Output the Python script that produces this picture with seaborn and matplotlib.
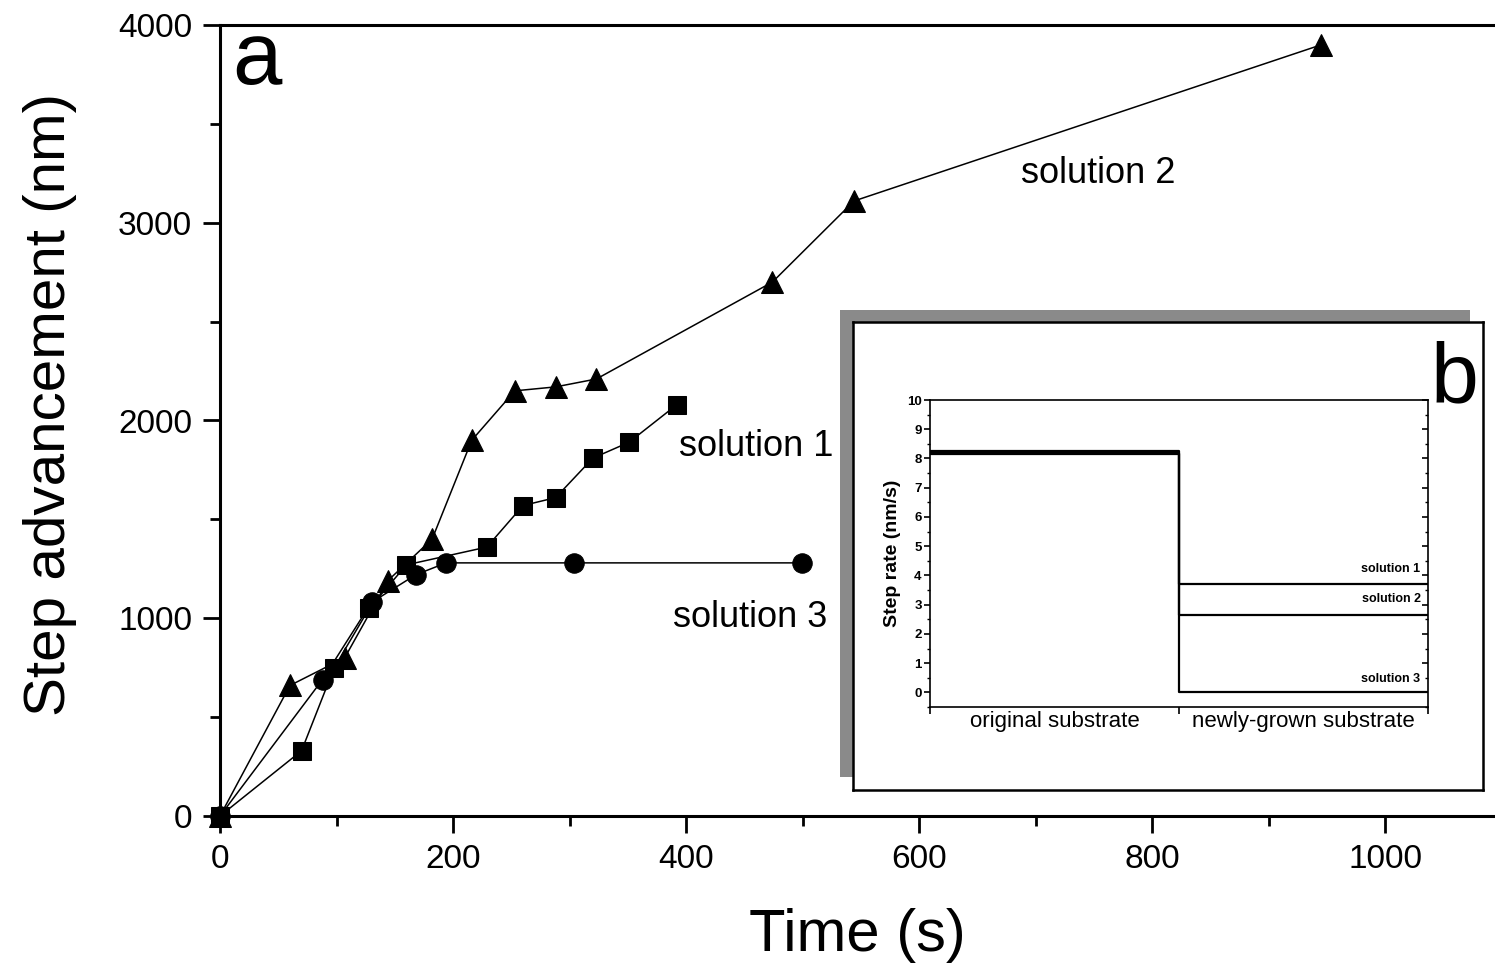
import numpy as np
import pandas as pd
import matplotlib
matplotlib.use("Agg")
import matplotlib.pyplot as plt
from matplotlib.patches import Rectangle
from matplotlib.ticker import MultipleLocator
import seaborn as sns

# solution 1 (squares)
t_sol1 = [0, 70, 98, 128, 160, 229, 260, 288, 320, 351, 392]
d_sol1 = [0, 330, 750, 1050, 1270, 1360, 1570, 1610, 1810, 1890, 2080]
# solution 2 (triangles)
t_sol2 = [0, 60, 107, 144, 182, 216, 253, 288, 323, 474, 544, 945]
d_sol2 = [0, 660, 800, 1190, 1400, 1900, 2150, 2170, 2210, 2700, 3110, 3900]
# solution 3 (circles)
t_sol3 = [0, 88, 130, 168, 194, 304, 499]
d_sol3 = [0, 690, 1080, 1220, 1280, 1280, 1280]

# inset: step rate before / after
substrates = ["original substrate", "newly-grown substrate"]
rate_orig = [8.27, 8.2, 8.15]
rate_new = [3.7, 2.65, 0.0]
sol_names = ["solution 1", "solution 2", "solution 3"]

sns.set_style("ticks")
plt.rcParams['font.family'] = ['Liberation Sans', 'DejaVu Sans']
for k in ['text.color', 'axes.labelcolor', 'xtick.color', 'ytick.color', 'axes.edgecolor']:
    plt.rcParams[k] = 'black'

W, H = 1495, 971
fig = plt.figure(figsize=(W / 100, H / 100), dpi=100)

ax = fig.add_axes([220 / W, 1 - 816 / H, (W - 220) / W, (816 - 25) / H])
for t, d, m, ms in [(t_sol1, d_sol1, 's', 13.5), (t_sol2, d_sol2, '^', 16), (t_sol3, d_sol3, 'o', 14)]:
    sns.lineplot(x=t, y=d, ax=ax, sort=False, color='black', linewidth=1.1,
                 marker=m, markersize=ms, markeredgecolor='black', clip_on=False)

ax.set_xlim(0, 1094)
ax.set_ylim(0, 4000)
ax.xaxis.set_major_locator(MultipleLocator(200))
ax.xaxis.set_minor_locator(MultipleLocator(100))
ax.yaxis.set_major_locator(MultipleLocator(1000))
ax.yaxis.set_minor_locator(MultipleLocator(500))
ax.tick_params(which='major', direction='out', length=12, width=2, labelsize=24, pad=8)
ax.tick_params(which='minor', direction='out', length=7, width=2)
for s in ['left', 'bottom', 'top']:
    ax.spines[s].set_linewidth(2.2)
ax.spines['right'].set_visible(False)
ax.set_xlabel('Time (s)', fontsize=43, labelpad=24)
ax.set_ylabel('Step advancement (nm)', fontsize=42)
ax.yaxis.set_label_coords(-0.112, 0.52)

ax.text(32, 3820, 'a', fontsize=64, ha='center', va='center')
ax.text(460, 1866, 'solution 1', fontsize=26, ha='center', va='center')
ax.text(455, 1006, 'solution 3', fontsize=26, ha='center', va='center')
ax.text(754, 3247, 'solution 2', fontsize=26, ha='center', va='center')

# inset frame with shadow
shadow = Rectangle((840 / W, 1 - 777 / H), (1470 - 840) / W, (777 - 310) / H,
                   transform=fig.transFigure, facecolor='#8a8a8a', edgecolor='none', zorder=1.5)
fig.add_artist(shadow)
box = fig.add_axes([853 / W, 1 - 790 / H, (1483 - 853) / W, (790 - 322) / H])
box.set_zorder(2)
box.set_xticks([])
box.set_yticks([])
for s in box.spines.values():
    s.set_linewidth(1.8)
    s.set_visible(True)
box.text(0.955, 0.875, 'b', fontsize=62, ha='center', va='center', transform=box.transAxes)

ins = fig.add_axes([930 / W, 1 - 707 / H, (1428 - 930) / W, (707 - 400) / H])
ins.set_zorder(3)
for i in range(3):
    sns.lineplot(x=[0, 1, 2], y=[rate_orig[i], rate_new[i], rate_new[i]], ax=ins,
                 drawstyle='steps-post', color='black', linewidth=1.6)
ins.set_xlim(0, 2)
ins.set_ylim(-0.5, 10)
ins.yaxis.set_major_locator(MultipleLocator(1))
ins.yaxis.set_minor_locator(MultipleLocator(0.5))
ins.set_xticks([0, 1, 2])
ins.set_xticklabels([])
ins.set_xticks([0.5, 1.5], minor=True)
ins.set_xticklabels(substrates, minor=True, fontsize=16)
ins.tick_params(axis='x', which='minor', length=0, pad=3)
ins.tick_params(axis='x', which='major', direction='out', length=5, width=1.2)
ins.tick_params(axis='y', which='major', direction='out', length=4, width=1.2, labelsize=9.5,
                right=True, pad=2)
ins.tick_params(axis='y', which='minor', direction='out', length=2.5, width=1, right=True)
for lab in ins.get_yticklabels():
    lab.set_fontweight('bold')
for tk in ins.yaxis.get_major_ticks() + ins.yaxis.get_minor_ticks():
    tk.tick2line.set_marker(matplotlib.lines.TICKLEFT)
for s in ins.spines.values():
    s.set_linewidth(1.2)
ins.set_ylabel('Step rate (nm/s)', fontsize=14, fontweight='bold', labelpad=4)
ins.set_xlabel('')
for name, yv in zip(sol_names, [4.0, 3.0, 0.25]):
    ins.text(1.97, yv, name, fontsize=9, fontweight='bold', ha='right', va='bottom')

fig.savefig('out.png', dpi=100)
